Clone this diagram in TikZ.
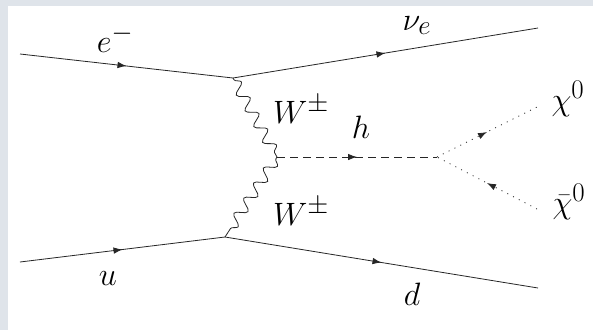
\documentclass[tikz,border=0pt]{standalone}
\usetikzlibrary{decorations.markings,decorations.pathmorphing,arrows.meta}
\definecolor{framegray}{RGB}{223,228,234}
\begin{document}
\begin{tikzpicture}[x=1pt,y=-1pt,
  line/.style={line width=0.8pt, black!85},
  fermion/.style={line, postaction={decorate}, decoration={markings, mark=at position 0.5 with {\arrow{Latex[length=9pt,width=6.5pt]}}}},
  scalar/.style={line, dash pattern=on 8pt off 5pt, postaction={decorate}, decoration={markings, mark=at position 0.5 with {\arrow[solid]{Latex[length=9pt,width=6.5pt]}}}},
  dotline/.style={line, dash pattern=on 1pt off 5.5pt, postaction={decorate}, decoration={markings, mark=at position 0.5 with {\arrow[solid]{Latex[length=9pt,width=6.5pt]}}}},
  boson/.style={line, decorate, decoration={snake, segment length=18pt, amplitude=5.5pt, pre length=2pt, post length=2pt}},
  lab/.style={font=\Huge, scale=1.3, anchor=base, inner sep=0pt}]
  % frame
  \fill[framegray] (0,0) rectangle (593,330);
  \fill[white] (8,6) rectangle (593,330);
  \useasboundingbox (0,0) rectangle (593,330);
  % points
  \coordinate (i1) at (20,54);
  \coordinate (o1) at (538,28);
  \coordinate (i2) at (20,262);
  \coordinate (o2) at (538,288);
  \coordinate (v1) at (233,78);
  \coordinate (v2) at (225,237);
  \coordinate (vh) at (277,157);
  \coordinate (vx) at (437,157);
  \coordinate (x1) at (537,107);
  \coordinate (x2) at (537,209);
  % lines
  \draw[fermion] (i1) -- (v1);
  \draw[fermion] (v1) -- (o1);
  \draw[fermion] (i2) -- (v2);
  \draw[fermion] (v2) -- (o2);
  \draw[boson] (v1) -- (vh);
  \draw[boson] (vh) -- (v2);
  \draw[scalar] (vh) -- (vx);
  \draw[dotline] (vx) -- (x1);
  \draw[dotline] (x2) -- (vx);
  % labels
  \node[lab] (le) at (115,52) {$e^-$};
  \node[lab] (lnu) at (417,30) {$\nu_e$};
  \node[lab] (lw1) at (301,123) {$W^\pm$};
  \node[lab] (lw2) at (301,225) {$W^\pm$};
  \node[lab] (lh) at (361,138) {$h$};
  \node[lab] (lx1) at (568,110) {$\chi^0$};
  \node[lab] (lx2) at (569,213) {$\bar{\chi}^0$};
  \node[lab] (lu) at (108,285) {$u$};
  \node[lab] (ld) at (412,305) {$d$};
\end{tikzpicture}
\end{document}
